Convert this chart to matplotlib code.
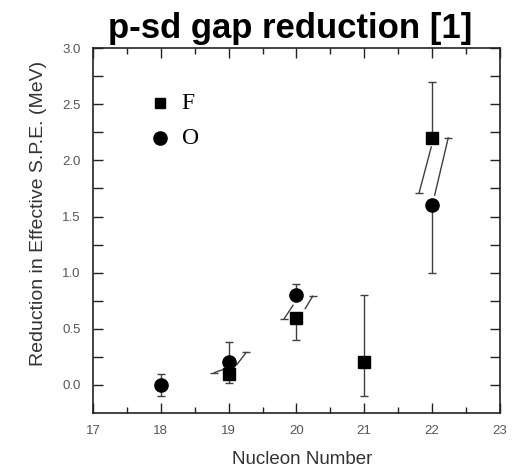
import numpy as np
import matplotlib
matplotlib.use("Agg")
import matplotlib.pyplot as plt
from matplotlib.ticker import MultipleLocator, FixedLocator, FormatStrFormatter

plt.rcParams["font.family"] = ["Liberation Sans", "DejaVu Sans"]

# === DATA ===
# F at 18 sits at 0.0, hidden under the O point in the original
nucleon_F = [19, 20, 21, 22]
reduction_F = [0.1, 0.6, 0.2, 2.2]
err_lo_F = [0.08, 0.2, 0.3, 0.0]
err_hi_F = [0.0, 0.0, 0.6, 0.5]

nucleon_O = [18, 19, 20, 22]
reduction_O = [0.0, 0.2, 0.8, 1.6]
err_lo_O = [0.1, 0.0, 0.0, 0.6]
err_hi_O = [0.1, 0.18, 0.1, 0.0]

# slanted error bars in the original figure (start -> capped end)
tilt_x0 = [18.93, 19.12, 19.95, 20.13, 21.99, 22.04]
tilt_y0 = [0.14, 0.18, 0.71, 0.68, 2.12, 1.69]
tilt_x1 = [18.79, 19.26, 19.82, 20.24, 21.81, 22.24]
tilt_y1 = [0.11, 0.29, 0.59, 0.79, 1.71, 2.20]

fig = plt.figure(figsize=(5.2, 4.72), dpi=100)
ax = fig.add_axes([0.179, 0.125, 0.782, 0.773])

bar_col = "#404040"
ax.errorbar(nucleon_F, reduction_F, yerr=[err_lo_F, err_hi_F], fmt="none",
            ecolor=bar_col, elinewidth=1, capsize=3, capthick=1)
ax.errorbar(nucleon_O, reduction_O, yerr=[err_lo_O, err_hi_O], fmt="none",
            ecolor=bar_col, elinewidth=1, capsize=3, capthick=1)

for x0, y0, x1, y1 in zip(tilt_x0, tilt_y0, tilt_x1, tilt_y1):
    ax.plot([x0, x1], [y0, y1], color=bar_col, lw=1)
    ax.plot([x1], [y1], marker="_", ms=6, mew=1, color=bar_col)

ax.plot(nucleon_F, reduction_F, "s", color="black", ms=8.5, zorder=5)
ax.plot(nucleon_O, reduction_O, "o", color="black", ms=9.5, zorder=5)

# legend drawn by hand, like the original
ax.plot([0.165], [0.849], "s", color="black", ms=7.5, transform=ax.transAxes)
ax.plot([0.165], [0.753], "o", color="black", ms=9.5, transform=ax.transAxes)
ax.text(0.218, 0.849, "F", transform=ax.transAxes, va="center", ha="left",
        family="Liberation Serif", fontsize=17)
ax.text(0.218, 0.753, "O", transform=ax.transAxes, va="center", ha="left",
        family="Liberation Serif", fontsize=17)

ax.set_xlim(17, 23)
ax.set_ylim(-0.25, 3.0)
ax.xaxis.set_major_locator(MultipleLocator(1))
ax.xaxis.set_minor_locator(MultipleLocator(0.5))
ax.yaxis.set_major_locator(FixedLocator(np.arange(0, 3.01, 0.5)))
ax.yaxis.set_minor_locator(FixedLocator(np.arange(0.25, 3.0, 0.5)))
ax.yaxis.set_major_formatter(FormatStrFormatter("%.1f"))

ax.tick_params(which="both", direction="in", top=True, right=True,
               colors="#222222", labelcolor="#555555", width=1)
ax.tick_params(axis="x", which="major", length=7, pad=9, labelsize=9.5)
ax.tick_params(axis="x", which="minor", length=4)
ax.tick_params(axis="y", which="both", length=7, pad=9, labelsize=9.5)
for s in ax.spines.values():
    s.set_linewidth(1.2)
    s.set_color("#222222")

ax.set_ylabel("Reduction in Effective S.P.E. (MeV)", fontsize=14,
              color="#333333")
ax.set_xlabel("Nucleon Number", fontsize=13.5, color="#333333")
ax.yaxis.set_label_coords(-0.113, 0.548)
ax.xaxis.set_label_coords(0.514, -0.105)

fig.text(0.558, 0.975, "p-sd gap reduction [1]", ha="center", va="top",
         fontsize=25, fontweight="bold")

fig.savefig("out.png", dpi=100)
